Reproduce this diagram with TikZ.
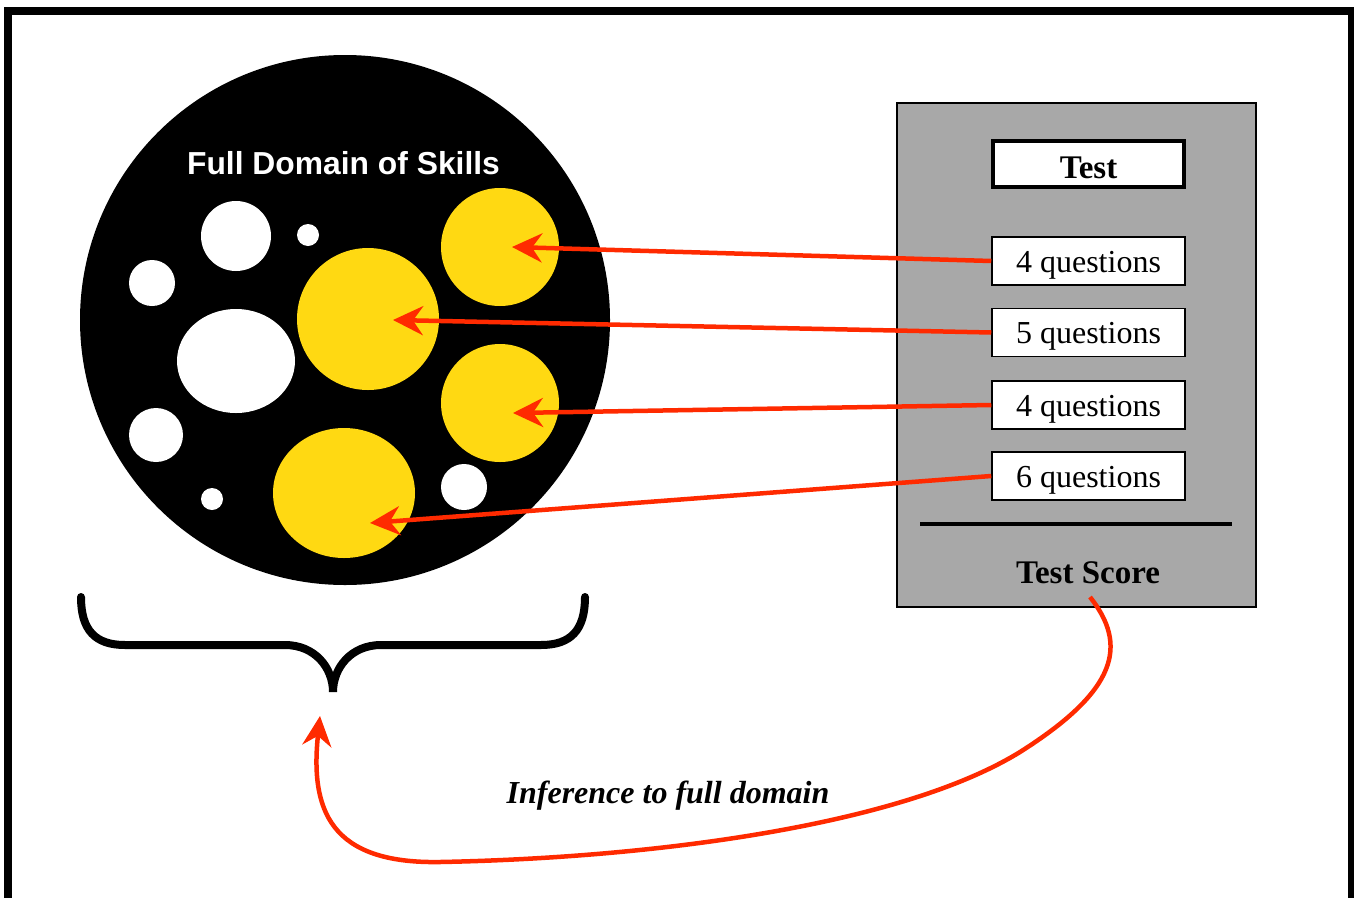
\documentclass[tikz,border=0pt]{standalone}
\usepackage{fontspec}
\setmainfont{Liberation Serif}
\newfontfamily\arialf{Liberation Sans}
\usetikzlibrary{arrows.meta}
\definecolor{skillyellow}{HTML}{FFD912}
\definecolor{arrowred}{HTML}{FF2A00}
\definecolor{panelgray}{HTML}{A8A8A8}
\begin{document}
\begin{tikzpicture}[x=1pt,y=-1pt,
  qbox/.style={draw=black, line width=1.5pt, fill=white, minimum width=193pt, minimum height=48pt, inner sep=0pt, text height=22pt, text depth=0pt, font=\fontsize{32}{36}\selectfont},
  titlebox/.style={draw=black, line width=4pt, fill=white, minimum width=191pt, minimum height=46pt, inner sep=0pt, text height=28pt, text depth=0pt, font=\fontsize{33}{36}\selectfont\bfseries},
  redarrow/.style={draw=arrowred, line width=4.5pt, -{Stealth[length=30pt,width=29pt,inset=10pt]}},
  skill/.style={fill=skillyellow},
  gap/.style={fill=white}
]
\useasboundingbox (0,0) rectangle (1354,897);
% outer frame (bottom edge cut off)
\draw[line width=8pt, line join=miter] (8,910) -- (8,11) -- (1352,11) -- (1352,910);

% full domain
\fill[black] (345,320) circle (265pt);
\node[font=\arialf\bfseries\fontsize{31.8}{36}\selectfont, text=white] (domain) at (343.5,163) {Full Domain of Skills};
\fill[gap] (236,236) circle (35pt);
\fill[gap] (308,235) circle (11pt);
\fill[gap] (152,283) circle (23pt);
\fill[gap] (236,361) ellipse [x radius=59pt, y radius=52pt];
\fill[gap] (156,435) circle (27pt);
\fill[gap] (212,499) circle (11pt);
\fill[gap] (464,487) circle (23pt);
\fill[skill] (500,247) circle (59pt);
\fill[skill] (368,319) circle (71pt);
\fill[skill] (500,403) circle (59pt);
\fill[skill] (344,493) ellipse [x radius=71pt, y radius=65pt];
\coordinate (s1) at (512,247);
\coordinate (s2) at (393,320);
\coordinate (s3) at (513,413);
\coordinate (s4) at (370,523);

% brace
\draw[line width=8pt, line cap=round] (81,597) .. controls (81,630) and (95,645) .. (125,645) -- (285,645) .. controls (315,645) and (333,668) .. (333,692)
  .. controls (333,668) and (351,645) .. (381,645) -- (541,645) .. controls (571,645) and (585,630) .. (585,597);
\coordinate (bracetip) at (320,716);

% test panel
\node[draw=black, line width=1.2pt, fill=panelgray, minimum width=359pt, minimum height=504pt, inner sep=0pt] (panel) at (1076.5,355) {};
\node[titlebox] (test) at (1088.5,164) {Test};
\node[qbox] (q1) at (1088.5,261) {4 questions};
\node[qbox] (q2) at (1088.5,332.5) {5 questions};
\node[qbox] (q3) at (1088.5,405) {4 questions};
\node[qbox] (q4) at (1088.5,476) {6 questions};
\draw[line width=4pt] (920,524) -- (1232,524);
\node[font=\fontsize{33}{36}\selectfont\bfseries, anchor=base] (score) at (1088,583) {Test Score};
\coordinate (scorefoot) at (1090,597);

% arrows
\draw[redarrow] (q1.west) -- (s1);
\draw[redarrow] (q2.west) -- (s2);
\draw[redarrow] (q3.west) -- (s3);
\draw[redarrow] (q4.west) -- (s4);
\draw[redarrow] (scorefoot) .. controls (1128,645) and (1118,690) .. (1020,752)
  .. controls (900,826) and (650,858) .. (440,862)
  .. controls (330,864) and (310,810) .. (bracetip);
\node[font=\fontsize{32}{36}\selectfont\bfseries\itshape, anchor=base] (infer) at (668,803) {Inference to full domain};
\end{tikzpicture}
\end{document}
